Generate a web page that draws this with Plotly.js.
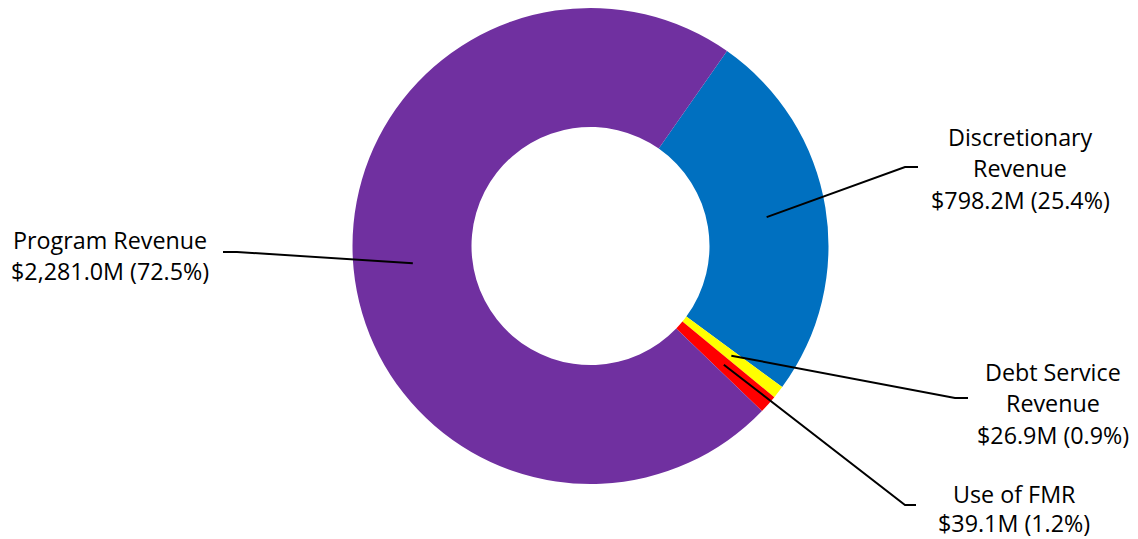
<!DOCTYPE html>
<html>
<head>
<meta charset="utf-8">
<script src="https://cdn.plot.ly/plotly-3.0.1.min.js"></script>
<style>html,body{margin:0;padding:0;background:#fff}#chart{width:1138px;height:539px}</style>
</head>
<body>
<div id="chart"></div>
<script>
// ---- data ----
var categories = ["Discretionary Revenue", "Debt Service Revenue", "Use of FMR", "Program Revenue"];
var values = [798.2, 26.9, 39.1, 2281.0];
var colors = ["#0070C0", "#FFFF00", "#FF0000", "#7030A0"];
var labelLines = [
  ["Discretionary", "Revenue", "$798.2M (25.4%)"],
  ["Debt Service", "Revenue", "$26.9M (0.9%)"],
  ["Use of FMR", "$39.1M (1.2%)"],
  ["Program Revenue", "$2,281.0M (72.5%)"]
];

// ---- layout geometry (pixels) ----
var W = 1138, H = 539;
var CX = 590.5, CY = 246, R = 238, HOLE = 0.5, ROT = 35;
// label text centres (first line), line spacing, and leader-line elbows / ends
var labelPos = [
  {x: 1020, y: 137, lh: 31.3, elbow: [905, 167], end: [918, 167]},
  {x: 1053, y: 372, lh: 31.3, elbow: [955, 398], end: [968, 398]},
  {x: 1014, y: 494, lh: 29.4, elbow: [905, 505], end: [916, 505]},
  {x: 110,  y: 240, lh: 31.3, elbow: [237, 252], end: [223, 252]}
];

function px(x){ return x / W; }
function py(y){ return 1 - y / H; }

var domain = {x: [px(CX - R), px(CX + R)], y: [py(CY + R), py(CY - R)]};

var trace = {
  type: "pie",
  labels: categories,
  values: values,
  marker: {colors: colors, line: {width: 0}},
  hole: HOLE,
  sort: false,
  direction: "clockwise",
  rotation: ROT,
  textinfo: "none",
  hoverinfo: "label+value+percent",
  domain: domain
};

// anchor points computed from the data (mid-ring at slice middle angle)
var total = values.reduce(function(a,b){return a+b;}, 0);
var shapes = [], annotations = [];
var cum = 0;
var font = {family: "'Open Sans', Lato, sans-serif", size: 23.3, color: "#000000"};
for (var i = 0; i < values.length; i++) {
  var mid = ROT + 360 * (cum + values[i] / 2) / total;
  cum += values[i];
  var rad = mid * Math.PI / 180;
  var rm = R * (1 + HOLE) / 2;
  var ax = CX + rm * Math.sin(rad);
  var ay = CY - rm * Math.cos(rad);
  var lp = labelPos[i];
  shapes.push({
    type: "path", xref: "paper", yref: "paper",
    path: "M " + px(ax) + "," + py(ay) + " L " + px(lp.elbow[0]) + "," + py(lp.elbow[1]) +
          " L " + px(lp.end[0]) + "," + py(lp.end[1]),
    line: {color: "#000000", width: 2}
  });
  for (var k = 0; k < labelLines[i].length; k++) {
    annotations.push({
      xref: "paper", yref: "paper",
      x: px(lp.x), y: py(lp.y + k * lp.lh),
      xanchor: "center", yanchor: "middle",
      borderpad: 0,
      text: labelLines[i][k], showarrow: false, font: font
    });
  }
}

var layout = {
  width: W, height: H,
  margin: {l: 0, r: 0, t: 0, b: 0},
  paper_bgcolor: "#ffffff",
  showlegend: false,
  shapes: shapes,
  annotations: annotations
};

Plotly.newPlot("chart", [trace], layout, {displayModeBar: false, staticPlot: true});
</script>
</body>
</html>
